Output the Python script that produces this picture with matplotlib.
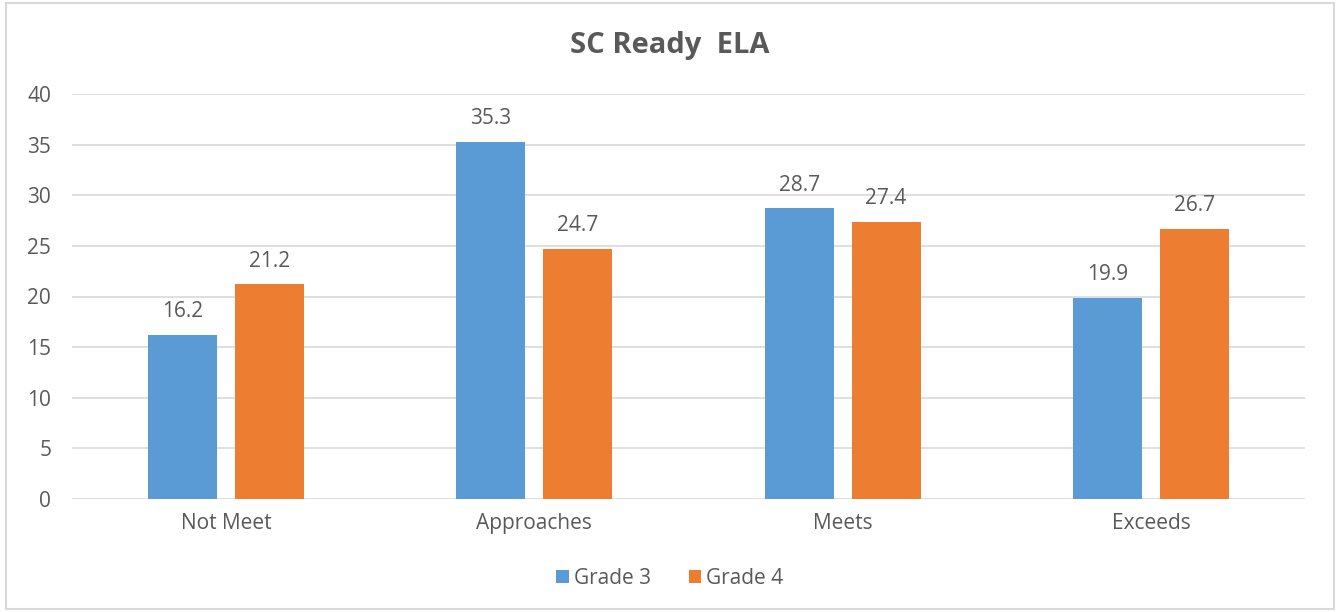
import matplotlib
matplotlib.use("Agg")
import matplotlib.pyplot as plt
from matplotlib.patches import Rectangle
import numpy as np

categories = ["Not Meet", "Approaches", "Meets", "Exceeds"]
grade3 = [16.2, 35.3, 28.7, 19.9]
grade4 = [21.2, 24.7, 27.4, 26.7]
series_names = ["Grade 3", "Grade 4"]

blue = "#5B9BD5"
orange = "#ED7D31"
txt = "#595959"

plt.rcParams['font.family'] = ['Open Sans', 'DejaVu Sans']

fig = plt.figure(figsize=(13.38, 6.12), dpi=100)
ax = fig.add_axes([72 / 1338, 1 - 499 / 612, (1305 - 72) / 1338, (499 - 94) / 612])

# outer chart border
fig.patches.append(Rectangle((6 / 1338, 3 / 612), 1328 / 1338, 606 / 612,
                             transform=fig.transFigure, fill=False,
                             edgecolor="#D9D9D9", linewidth=1.5))

x = np.arange(len(categories))
w = 0.224
off = 0.141
b1 = ax.bar(x - off, grade3, w, color=blue, label=series_names[0], zorder=3)
b2 = ax.bar(x + off, grade4, w, color=orange, label=series_names[1], zorder=3)

for bars, vals in ((b1, grade3), (b2, grade4)):
    for r, v in zip(bars, vals):
        ax.annotate(f"{v:.1f}", (r.get_x() + r.get_width() / 2, v),
                    xytext=(0, 9), textcoords="offset points",
                    ha="center", va="bottom", fontsize=15, color=txt)

ax.set_xlim(-0.5, 3.5)
ax.set_ylim(0, 40)
ax.set_yticks(range(0, 41, 5))
ax.set_xticks(x)
ax.set_xticklabels(categories)
ax.grid(axis="y", color="#D9D9D9", linewidth=1.2, zorder=0)
for s in ax.spines.values():
    s.set_visible(False)
ax.tick_params(axis="both", length=0, labelsize=15, colors=txt)
ax.tick_params(axis="y", pad=15)
ax.tick_params(axis="x", pad=10)

fig.text(670 / 1338, 1 - 45 / 612, "SC Ready  ELA", ha="center", va="center",
         fontsize=21, fontweight="bold", color=txt)

leg = fig.legend(loc="center", bbox_to_anchor=(670 / 1338, 1 - 578 / 612),
                 ncol=2, frameon=False, fontsize=15, handlelength=0.6,
                 handleheight=0.6, handletextpad=0.25, columnspacing=1.8)
for t in leg.get_texts():
    t.set_color(txt)

fig.savefig("out.png", dpi=100)
